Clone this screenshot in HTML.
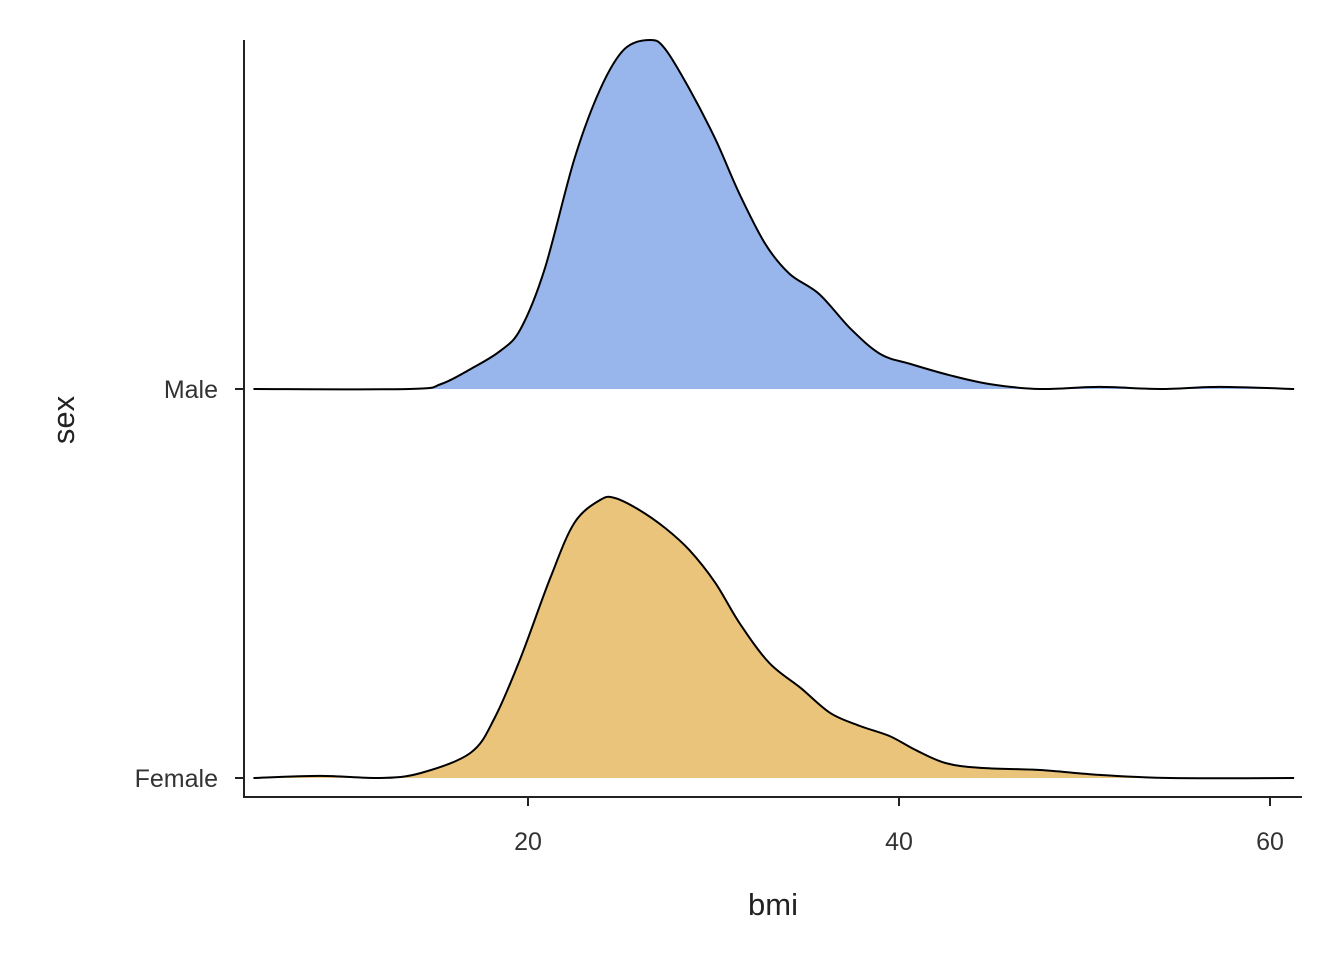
<!DOCTYPE html>
<html><head><meta charset="utf-8"><style>
body{margin:0;background:#fff}
svg{display:block;font-family:"Liberation Sans",Arial,sans-serif}
</style></head><body>
<svg id="chart" width="1344" height="960" viewBox="0 0 1344 960">
<g id="ridges"></g>
<line x1="244" y1="40" x2="244" y2="798" stroke="#222" stroke-width="2"/>
<line x1="243" y1="797" x2="1302" y2="797" stroke="#222" stroke-width="2"/>
<g id="axes"></g>
<text x="773" y="915" font-size="31" fill="#222" text-anchor="middle">bmi</text>
<text transform="translate(74,420) rotate(-90)" font-size="31" fill="#222" text-anchor="middle">sex</text>
</svg>
<script>
const categories = ["Female", "Male"];
const xTicks = [20, 40, 60];
const maleX = [5.2,13.6,15.3,16.9,18.5,19.6,20.9,22.5,23.9,25.2,26.6,27.4,28.7,30.1,31.4,32.8,34.1,35.7,37.4,39.0,40.6,42.7,44.9,47.6,50.8,54.1,57.3,61.3];
const maleY = [0,0,1.4,5.7,10.9,17.2,34.4,65.9,86,97.4,100,97.4,86,71.6,55.9,41.5,33,27.2,17.2,10,7.2,4,1.4,0,0.6,0,0.6,0];
const femaleX = [5.2,8.8,12,14.2,16.9,18.2,19.6,21.2,22.5,23.9,24.7,26.0,27.4,28.7,30.1,31.4,33.0,34.7,36.3,37.9,39.5,40.9,42.5,44.4,47.6,50.8,54.6,61.3];
const femaleY = [0,0.6,0,1.4,7.2,17.2,34.4,57.3,73.1,79.7,80.2,76.8,71.6,65.3,55.9,44.4,33,25.8,18.6,14.9,12,8,4.3,2.9,2.3,0.9,0,0];
const sx = v => 528 + (v - 20) * 18.55;
const baseY = {Female: 778, Male: 389};
const hScale = 3.49;
const NS = "http://www.w3.org/2000/svg";
function pathFor(xs, ys, base) {
  const p = xs.map((x, i) => [sx(x), base - ys[i] * hScale]);
  let d = "M" + p[0][0] + "," + p[0][1];
  for (let i = 0; i < p.length - 1; i++) {
    const p0 = p[Math.max(0, i - 1)], p1 = p[i], p2 = p[i + 1], p3 = p[Math.min(p.length - 1, i + 2)];
    const c1x = p1[0] + (p2[0] - p0[0]) / 6, c1y = p1[1] + (p2[1] - p0[1]) / 6;
    const c2x = p2[0] - (p3[0] - p1[0]) / 6, c2y = p2[1] - (p3[1] - p1[1]) / 6;
    d += " C" + c1x + "," + c1y + " " + c2x + "," + c2y + " " + p2[0] + "," + p2[1];
  }
  return {d, x0: p[0][0], x1: p[p.length - 1][0]};
}
const ridges = document.getElementById("ridges");
[["Male", maleX, maleY, "#98b6ec"], ["Female", femaleX, femaleY, "#eac47b"]].forEach(([name, xs, ys, col]) => {
  const b = baseY[name];
  const r = pathFor(xs, ys, b);
  const fill = document.createElementNS(NS, "path");
  fill.setAttribute("d", r.d + " L" + r.x1 + "," + b + " L" + r.x0 + "," + b + " Z");
  fill.setAttribute("fill", col);
  
  
  ridges.appendChild(fill);
  const line = document.createElementNS(NS, "path");
  line.setAttribute("d", r.d);
  line.setAttribute("fill", "none");
  line.setAttribute("stroke", "#000");
  line.setAttribute("stroke-width", "2");
  
  
  ridges.appendChild(line);
});
const axes = document.getElementById("axes");
categories.forEach(c => {
  const y = baseY[c];
  const t = document.createElementNS(NS, "line");
  t.setAttribute("x1", 235); t.setAttribute("x2", 244); t.setAttribute("y1", y); t.setAttribute("y2", y);
  t.setAttribute("stroke", "#222"); t.setAttribute("stroke-width", "2");
  
  
  axes.appendChild(t);
  const l = document.createElementNS(NS, "text");
  l.setAttribute("x", 218); l.setAttribute("y", y + 9);
  l.setAttribute("text-anchor", "end"); l.setAttribute("font-size", "25"); l.setAttribute("fill", "#333");
  l.textContent = c;
  
  
  axes.appendChild(l);
});
xTicks.forEach(v => {
  const x = sx(v);
  const t = document.createElementNS(NS, "line");
  t.setAttribute("x1", x); t.setAttribute("x2", x); t.setAttribute("y1", 797); t.setAttribute("y2", 806);
  t.setAttribute("stroke", "#222"); t.setAttribute("stroke-width", "2");
  
  
  axes.appendChild(t);
  const l = document.createElementNS(NS, "text");
  l.setAttribute("x", x); l.setAttribute("y", 850);
  l.setAttribute("text-anchor", "middle"); l.setAttribute("font-size", "25"); l.setAttribute("fill", "#333");
  l.textContent = v;
  
  
  axes.appendChild(l);
});
</script>
</body></html>
